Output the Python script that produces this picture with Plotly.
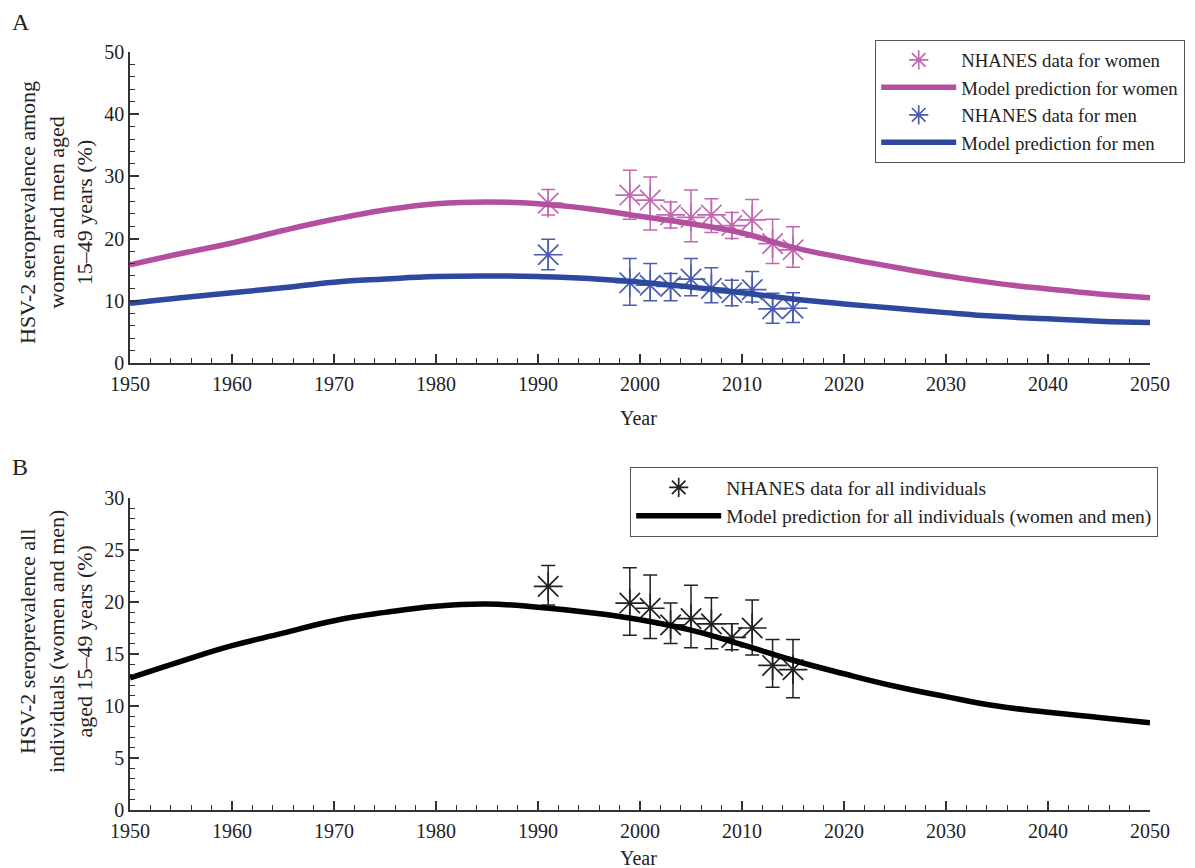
import plotly.graph_objects as go

# ---------------- data ----------------
survey_years = [1991, 1999, 2001, 2003, 2005, 2007, 2009, 2011, 2013, 2015]

women_obs = [25.7, 27.0, 26.2, 23.8, 23.4, 23.8, 22.1, 23.0, 19.2, 18.2]
women_hi = [27.9, 31.0, 29.9, 25.9, 27.8, 26.4, 24.2, 26.3, 23.1, 21.9]
women_lo = [23.8, 23.1, 21.4, 21.7, 19.5, 21.0, 20.0, 20.2, 16.0, 15.4]

men_obs = [17.4, 12.9, 12.5, 12.3, 13.5, 12.0, 11.3, 11.8, 8.7, 8.8]
men_hi = [19.9, 16.8, 16.0, 14.4, 16.8, 15.3, 13.3, 14.7, 11.2, 11.3]
men_lo = [15.0, 9.3, 10.0, 10.0, 10.8, 9.7, 9.2, 9.8, 6.4, 6.5]

all_obs = [21.5, 19.9, 19.4, 17.8, 18.4, 17.9, 16.6, 17.5, 13.9, 13.5]
all_hi = [23.5, 23.3, 22.6, 19.9, 21.6, 20.4, 17.9, 20.2, 16.4, 16.4]
all_lo = [19.7, 16.8, 16.5, 16.0, 15.6, 15.5, 15.4, 14.9, 11.8, 10.8]

model_years = [1950, 1955, 1960, 1965, 1970, 1975, 1980, 1985, 1990, 1995, 2000,
               2005, 2010, 2015, 2020, 2025, 2030, 2035, 2040, 2045, 2050]
women_model = [15.8, 17.6, 19.3, 21.3, 23.1, 24.6, 25.6, 25.9, 25.6, 24.8, 23.6,
               22.4, 20.9, 18.6, 16.9, 15.4, 14.0, 12.8, 11.9, 11.1, 10.5]
men_model = [9.6, 10.5, 11.3, 12.1, 13.0, 13.5, 13.9, 14.0, 13.9, 13.6, 13.0,
             12.2, 11.3, 10.3, 9.5, 8.8, 8.1, 7.5, 7.1, 6.7, 6.5]
all_model = [12.7, 14.3, 15.8, 17.0, 18.2, 19.0, 19.6, 19.8, 19.5, 19.0, 18.3,
             17.3, 15.9, 14.4, 13.1, 11.9, 10.9, 10.0, 9.4, 8.9, 8.4]

x_ticks = list(range(1950, 2051, 10))

# ---------------- style ----------------
W, H = 1195, 868
FONT = "Liberation Serif"
PINK_LINE = "#B44E9F"
PINK_MK = "#C267B0"
BLUE_LINE = "#2C489F"
BLUE_MK = "#4A5CB3"
AX = "#333333"


def px_x(p):
    return p / W


def px_y(p):
    return 1 - p / H


def err(obs, hi, lo):
    return dict(type="data", symmetric=False,
                array=[h - o for h, o in zip(hi, obs)],
                arrayminus=[o - l for o, l in zip(obs, lo)],
                thickness=1.5, width=7)


fig = go.Figure()

# Panel A
fig.add_trace(go.Scatter(x=survey_years, y=women_obs, mode="markers",
                         name="NHANES data for women",
                         marker=dict(symbol="asterisk-open", size=24, color=PINK_MK,
                                     line=dict(color=PINK_MK, width=1.7)),
                         error_y=dict(err(women_obs, women_hi, women_lo), color=PINK_MK),
                         xaxis="x", yaxis="y", legend="legend"))
fig.add_trace(go.Scatter(x=model_years, y=women_model, mode="lines",
                         name="Model prediction for women",
                         line=dict(color=PINK_LINE, width=5.5, shape="spline", smoothing=1.3),
                         xaxis="x", yaxis="y", legend="legend"))
fig.add_trace(go.Scatter(x=survey_years, y=men_obs, mode="markers",
                         name="NHANES data for men",
                         marker=dict(symbol="asterisk-open", size=24, color=BLUE_MK,
                                     line=dict(color=BLUE_MK, width=1.7)),
                         error_y=dict(err(men_obs, men_hi, men_lo), color=BLUE_MK),
                         xaxis="x", yaxis="y", legend="legend"))
fig.add_trace(go.Scatter(x=model_years, y=men_model, mode="lines",
                         name="Model prediction for men",
                         line=dict(color=BLUE_LINE, width=5.5, shape="spline", smoothing=1.3),
                         xaxis="x", yaxis="y", legend="legend"))

# Panel B
fig.add_trace(go.Scatter(x=survey_years, y=all_obs, mode="markers",
                         name="NHANES data for all individuals",
                         marker=dict(symbol="asterisk-open", size=24, color="#222222",
                                     line=dict(color="#222222", width=1.7)),
                         error_y=dict(err(all_obs, all_hi, all_lo), color="#222222"),
                         xaxis="x2", yaxis="y2", legend="legend2"))
fig.add_trace(go.Scatter(x=model_years, y=all_model, mode="lines",
                         name="Model prediction for all individuals (women and men)",
                         line=dict(color="#000000", width=5.5, shape="spline", smoothing=1.3),
                         xaxis="x2", yaxis="y2", legend="legend2"))

xdom = [px_x(130), px_x(1150)]
common_x = dict(range=[1950, 2050], tickvals=x_ticks, ticks="inside", ticklen=9,
                tickwidth=1.5, tickcolor=AX, showline=True, linecolor=AX, linewidth=1.5,
                showgrid=False, zeroline=False, domain=xdom, automargin=False,
                ticklabelstandoff=2,
                tickfont=dict(family=FONT, size=20, color="#222222"),
                minor=dict(ticks="inside", dtick=2, ticklen=5, tickwidth=1.2,
                           tickcolor=AX, showgrid=False))
common_y = dict(ticks="inside", ticklen=9, tickwidth=1.5, tickcolor=AX, showline=True,
                linecolor=AX, linewidth=1.5, showgrid=False, zeroline=False,
                automargin=False,
                tickfont=dict(family=FONT, size=20, color="#222222"))

fig.update_layout(
    width=W, height=H,
    margin=dict(l=0, r=0, t=0, b=0, pad=0, autoexpand=False),
    paper_bgcolor="white", plot_bgcolor="white",
    showlegend=True,
    xaxis=dict(common_x, anchor="y"),
    yaxis=dict(common_y, range=[0, 50], dtick=10, anchor="x",
               domain=[px_y(363), px_y(52)],
               minor=dict(ticks="inside", dtick=2, ticklen=5, tickwidth=1.2,
                          tickcolor=AX, showgrid=False)),
    xaxis2=dict(common_x, anchor="y2"),
    yaxis2=dict(common_y, range=[0, 30], dtick=5, anchor="x2",
                domain=[px_y(810), px_y(498)],
                minor=dict(ticks="inside", dtick=1, ticklen=5, tickwidth=1.2,
                           tickcolor=AX, showgrid=False)),
    legend=dict(x=px_x(875), y=px_y(40), xanchor="left", yanchor="top",
                bgcolor="white", bordercolor="#555555", borderwidth=1.2,
                font=dict(family=FONT, size=18.8, color="#222222"),
                itemwidth=75, tracegroupgap=0),
    legend2=dict(x=px_x(630), y=px_y(467), xanchor="left", yanchor="top",
                 bgcolor="white", bordercolor="#555555", borderwidth=1.2,
                 font=dict(family=FONT, size=19.5, color="#222222"),
                 itemwidth=85, tracegroupgap=0),
)

ann_font = dict(family=FONT, size=22, color="#222222")
annotations = [
    dict(text="A", x=px_x(10), y=px_y(22), xanchor="left", yanchor="middle",
         font=dict(family=FONT, size=24, color="#222222")),
    dict(text="B", x=px_x(10), y=px_y(467), xanchor="left", yanchor="middle",
         font=dict(family=FONT, size=24, color="#222222")),
    dict(text="Year", x=px_x(638), y=px_y(418), xanchor="center", yanchor="middle",
         font=dict(family=FONT, size=20, color="#222222")),
    dict(text="Year", x=px_x(638), y=px_y(858), xanchor="center", yanchor="middle",
         font=dict(family=FONT, size=20, color="#222222")),
    dict(text="HSV-2 seroprevalence among<br>women and men aged<br>15\u201349 years (%)",
         x=px_x(56), y=px_y(213), xanchor="center", yanchor="middle", textangle=-90,
         font=ann_font),
    dict(text="HSV-2 seroprevalence all<br>individuals (women and men)<br>aged 15\u201349 years (%)",
         x=px_x(56), y=px_y(642), xanchor="center", yanchor="middle", textangle=-90,
         font=ann_font),
]
for a in annotations:
    a.update(xref="paper", yref="paper", showarrow=False)
fig.update_layout(annotations=annotations)

fig.write_html("out.html")
